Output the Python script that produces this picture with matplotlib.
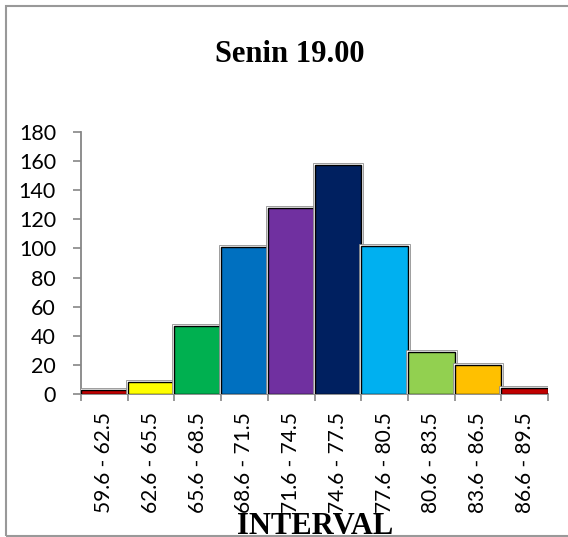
#!/usr/bin/env python3
# -*- coding: utf-8 -*-
import matplotlib
matplotlib.use("Agg")
import matplotlib.pyplot as plt
import matplotlib.patheffects as pe
from matplotlib.patches import Rectangle

# data
intervals = ["59.6 - 62.5", "62.6 - 65.5", "65.6 - 68.5", "68.6 - 71.5", "71.6 - 74.5",
             "74.6 - 77.5", "77.6 - 80.5", "80.6 - 83.5", "83.6 - 86.5", "86.6 - 89.5"]
counts = [3, 8, 47, 101, 128, 157, 102, 29, 20, 4]
colors = ["#C00000", "#FFFF00", "#00B050", "#0070C0", "#7030A0",
          "#002060", "#00B0F0", "#92D050", "#FFC000", "#C00000"]
y_ticks = [0, 20, 40, 60, 80, 100, 120, 140, 160, 180]

W, H = 568, 537
fig = plt.figure(figsize=(W / 100, H / 100), dpi=100)
ax = fig.add_axes([81 / W, 1 - 394 / H, (548 - 81) / W, (394 - 132) / H])

# histogram bars with black edge and light halo
pos = list(range(len(counts)))
bars = ax.bar(pos, counts, width=1.0, align="edge", color=colors,
              edgecolor="black", linewidth=1.0, zorder=3)
for b in bars:
    b.set_path_effects([pe.Stroke(linewidth=3.4, foreground="#8f8f8f"),
                        pe.Stroke(linewidth=2.2, foreground="white"),
                        pe.Normal()])

ax.set_xlim(0, len(counts))
ax.set_ylim(0, 180)

# y axis
ax.set_yticks(y_ticks)
ax.set_yticklabels([str(v) for v in y_ticks], fontfamily="Lato", fontsize=15.5)
ax.tick_params(axis="y", direction="out", length=6, width=1.2, color="#868686", pad=12)

# x axis: ticks at bin edges, labels at bin centres
ax.set_xticks(list(range(len(counts) + 1)))
ax.set_xticklabels([])
ax.tick_params(axis="x", which="major", direction="out", length=5, width=1.2, color="#868686")
ax.set_xticks([p + 0.5 for p in pos], minor=True)
ax.set_xticklabels(intervals, minor=True, rotation=90, fontfamily="Lato", fontsize=15)
ax.tick_params(axis="x", which="minor", length=0, pad=13)

for s in ["top", "right"]:
    ax.spines[s].set_visible(False)
for s in ["left", "bottom"]:
    ax.spines[s].set_color("#868686")
    ax.spines[s].set_linewidth(1.3)

fig.text(290 / W, 1 - 61.5 / H, "Senin 19.00", ha="center", va="baseline",
         fontfamily="Liberation Serif", fontweight="bold", fontsize=22)
fig.text(315 / W, 3 / H, "INTERVAL", ha="center", va="baseline",
         fontfamily="Liberation Serif", fontweight="bold", fontsize=22)

# chart frame
fig.add_artist(Rectangle((6 / W, 1 - 535.7 / H), 1.0, (535.7 - 5.5) / H,
                         transform=fig.transFigure, fill=False,
                         edgecolor="#999999", linewidth=1.5))

fig.savefig("out.png", dpi=100)
